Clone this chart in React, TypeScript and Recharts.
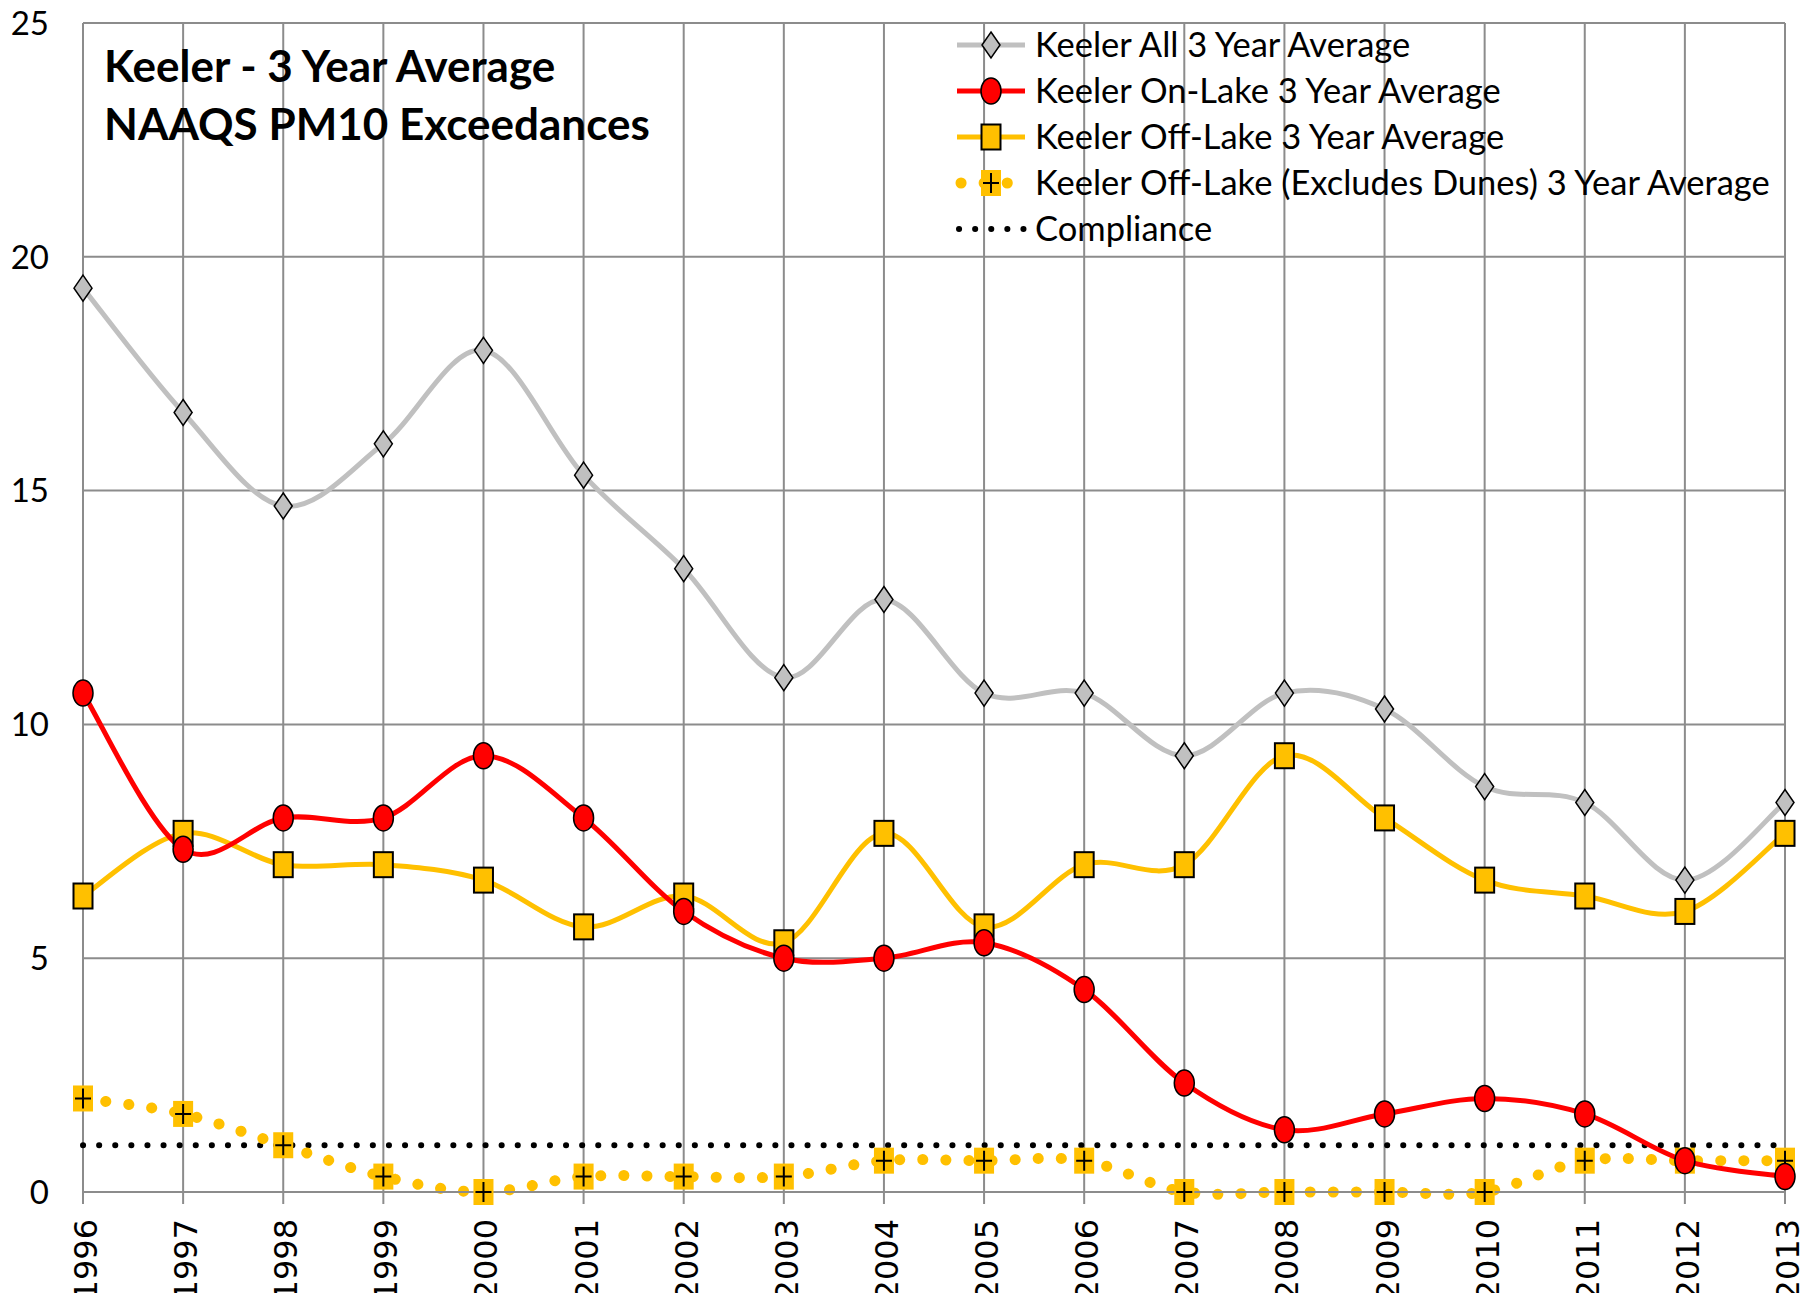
import { LineChart, Line, XAxis, YAxis, CartesianGrid, Legend, ReferenceLine } from "recharts";

const years = ["1996", "1997", "1998", "1999", "2000", "2001", "2002", "2003", "2004", "2005", "2006", "2007", "2008", "2009", "2010", "2011", "2012", "2013"];
const keelerAll = [19.33, 16.67, 14.67, 16.0, 18.0, 15.33, 13.33, 11.0, 12.67, 10.67, 10.67, 9.33, 10.67, 10.33, 8.67, 8.33, 6.67, 8.33];
const onLake = [10.67, 7.33, 8.0, 8.0, 9.33, 8.0, 6.0, 5.0, 5.0, 5.33, 4.33, 2.33, 1.33, 1.67, 2.0, 1.67, 0.67, 0.33];
const offLake = [6.33, 7.67, 7.0, 7.0, 6.67, 5.67, 6.33, 5.33, 7.67, 5.67, 7.0, 7.0, 9.33, 8.0, 6.67, 6.33, 6.0, 7.67];
const offLakeNoDunes = [2.0, 1.67, 1.0, 0.33, 0, 0.33, 0.33, 0.33, 0.67, 0.67, 0.67, 0, 0, 0, 0, 0.67, 0.67, 0.67];
const compliance = years.map(() => 1);
const yTicks = [0, 5, 10, 15, 20, 25];

const data = years.map((year, i) => ({
  year,
  all: keelerAll[i],
  on: onLake[i],
  off: offLake[i],
  noDunes: offLakeNoDunes[i],
  compliance: compliance[i],
}));

const FONT = "Lato, 'Open Sans', sans-serif";
const GRID = "#8c8c8c";
const YELLOW = "#ffc000";

// excel style smoothed line (catmull-rom through the points)
function excelSmooth(context: any) {
  let xs: number[] = [];
  let ys: number[] = [];
  return {
    areaStart() {},
    areaEnd() {},
    lineStart() {
      xs = [];
      ys = [];
    },
    lineEnd() {
      const n = xs.length;
      if (!n) return;
      context.moveTo(xs[0], ys[0]);
      for (let i = 0; i < n - 1; i++) {
        const p = Math.max(i - 1, 0);
        const q = Math.min(i + 2, n - 1);
        context.bezierCurveTo(
          xs[i] + (xs[i + 1] - xs[p]) / 6,
          ys[i] + (ys[i + 1] - ys[p]) / 6,
          xs[i + 1] - (xs[q] - xs[i]) / 6,
          ys[i + 1] - (ys[q] - ys[i]) / 6,
          xs[i + 1],
          ys[i + 1]
        );
      }
    },
    point(x: number, y: number) {
      xs.push(+x);
      ys.push(+y);
    },
  };
}

const Diamond = ({ cx, cy }: any) => (
  <path d={`M${cx},${cy - 13} L${cx + 9},${cy} L${cx},${cy + 13} L${cx - 9},${cy} Z`} fill="#c0c0c0" stroke="#000" strokeWidth={1.5} />
);
const Circle = ({ cx, cy }: any) => <ellipse cx={cx} cy={cy} rx={10} ry={13} fill="#ff0000" stroke="#000" strokeWidth={1.5} />;
const Square = ({ cx, cy }: any) => (
  <rect x={cx - 9.5} y={cy - 12.5} width={19} height={25} fill={YELLOW} stroke="#000" strokeWidth={2} />
);
const PlusSquare = ({ cx, cy }: any) => (
  <g>
    <rect x={cx - 10} y={cy - 13} width={20} height={26} fill={YELLOW} />
    <path d={`M${cx - 8},${cy} H${cx + 8} M${cx},${cy - 10} V${cy + 10}`} stroke="#000" strokeWidth={2} />
  </g>
);

const XTick = ({ x, y, payload }: any) => (
  <text
    x={x}
    y={y}
    transform={`rotate(-90, ${x}, ${y})`}
    dx={-13}
    dy={14}
    textAnchor="end"
    fontFamily="'DejaVu Sans', sans-serif"
    fontSize={32}
    fill="#000"
  >
    {payload.value}
  </text>
);

const legendRows = [
  { label: "Keeler All 3 Year Average", kind: "all" },
  { label: "Keeler On-Lake 3 Year Average", kind: "on" },
  { label: "Keeler Off-Lake 3 Year Average", kind: "off" },
  { label: "Keeler Off-Lake (Excludes Dunes) 3 Year Average", kind: "noDunes" },
  { label: "Compliance", kind: "compliance" },
];

const renderLegend = () => (
  <svg width={850} height={260}>
    {legendRows.map((r, i) => {
      const y = 30 + i * 46;
      let sample = null;
      if (r.kind === "all")
        sample = (
          <g>
            <line x1={2} x2={70} y1={y} y2={y} stroke="#c0c0c0" strokeWidth={5} />
            <Diamond cx={36} cy={y} />
          </g>
        );
      if (r.kind === "on")
        sample = (
          <g>
            <line x1={2} x2={70} y1={y} y2={y} stroke="#ff0000" strokeWidth={5} />
            <Circle cx={36} cy={y} />
          </g>
        );
      if (r.kind === "off")
        sample = (
          <g>
            <line x1={2} x2={70} y1={y} y2={y} stroke={YELLOW} strokeWidth={5} />
            <Square cx={36} cy={y} />
          </g>
        );
      if (r.kind === "noDunes")
        sample = (
          <g>
            <line x1={6} x2={64} y1={y} y2={y} stroke={YELLOW} strokeWidth={11} strokeLinecap="round" strokeDasharray="0.1 23" />
            <PlusSquare cx={36} cy={y} />
          </g>
        );
      if (r.kind === "compliance")
        sample = <line x1={4} x2={70} y1={y} y2={y} stroke="#000" strokeWidth={6} strokeLinecap="round" strokeDasharray="0.1 16" />;
      return (
        <g key={r.label}>
          {sample}
          <text x={80} y={y + 12} fontFamily={FONT} fontSize={34.5} fill="#000">
            {r.label}
          </text>
        </g>
      );
    })}
  </svg>
);

export default function App() {
  return (
    <div style={{ position: "absolute", left: 0, top: 0, width: 1814, height: 1293, background: "#fff", overflow: "hidden" }}>
      <LineChart width={1814} height={1293} data={data} margin={{ top: 23, right: 29, bottom: 11, left: 23 }}>
        <CartesianGrid stroke={GRID} strokeWidth={2} />
        <XAxis
          dataKey="year"
          height={90}
          axisLine={{ stroke: GRID, strokeWidth: 2 }}
          tickLine={{ stroke: GRID, strokeWidth: 2 }}
          tickSize={12}
          tick={<XTick />}
          interval={0}
        />
        <YAxis
          domain={[0, 25]}
          ticks={yTicks}
          width={60}
          axisLine={false}
          tickLine={false}
          tickMargin={28}
          tick={{ fontFamily: FONT, fontSize: 33, fill: "#000" }}
        />
        <ReferenceLine y={25} stroke={GRID} strokeWidth={2} />
        <ReferenceLine x="2013" stroke={GRID} strokeWidth={2} />
        <Line dataKey="compliance" stroke="#000" strokeWidth={6} strokeLinecap="round" strokeDasharray="0.1 16" dot={false} isAnimationActive={false} />
        <Line dataKey="noDunes" type={excelSmooth as any} stroke={YELLOW} strokeWidth={11} strokeLinecap="round" strokeDasharray="0.1 23" dot={(p: any) => <PlusSquare key={p.index} {...p} />} isAnimationActive={false} />
        <Line dataKey="off" type={excelSmooth as any} stroke={YELLOW} strokeWidth={5} dot={(p: any) => <Square key={p.index} {...p} />} isAnimationActive={false} />
        <Line dataKey="on" type={excelSmooth as any} stroke="#ff0000" strokeWidth={5} dot={(p: any) => <Circle key={p.index} {...p} />} isAnimationActive={false} />
        <Line dataKey="all" type={excelSmooth as any} stroke="#c0c0c0" strokeWidth={5} dot={(p: any) => <Diamond key={p.index} {...p} />} isAnimationActive={false} />
        <Legend
          layout="horizontal"
          verticalAlign="middle"
          content={renderLegend}
          wrapperStyle={{ position: "absolute", left: 955, top: 15, width: 850 }}
        />
      </LineChart>
      <div
        style={{
          position: "absolute",
          left: 104,
          top: 36,
          fontFamily: FONT,
          fontWeight: "bold",
          fontSize: 44,
          lineHeight: "58px",
          color: "#000",
          whiteSpace: "nowrap",
        }}
      >
        Keeler - 3 Year Average
        <br />
        NAAQS PM10 Exceedances
      </div>
    </div>
  );
}
